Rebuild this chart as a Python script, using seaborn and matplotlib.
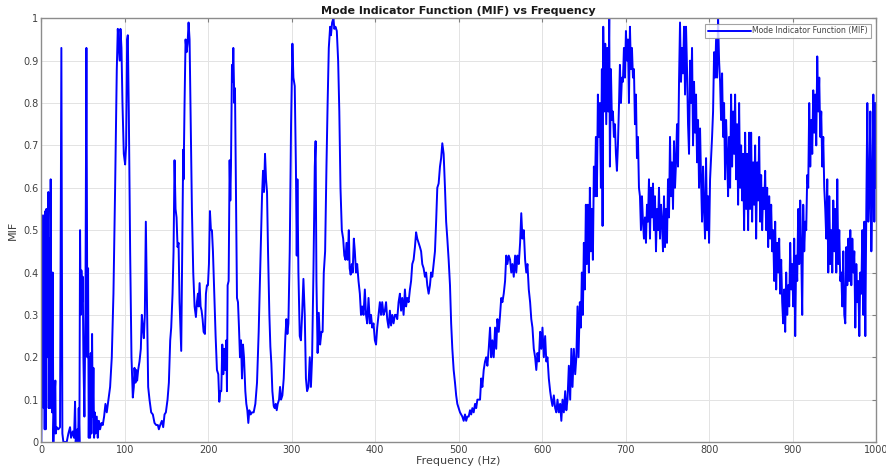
import numpy as np
import pandas as pd
import seaborn as sns
import matplotlib
matplotlib.use("Agg")
import matplotlib.pyplot as plt

# (frequency Hz, MIF), segment by segment
band_0_100 = [
    (0.0, 0.0), (2.0, 0.535), (2.8, 0.08), (3.6, 0.32), (4.0, 0.03), (4.8, 0.545), (5.2, 0.03),
    (6.0, 0.55), (6.8, 0.2), (7.6, 0.45), (8.4, 0.59), (8.8, 0.08), (9.6, 0.48), (10.4, 0.08),
    (11.2, 0.62), (12.0, 0.22), (12.8, 0.07), (13.6, 0.40), (14.4, 0.0), (15.6, 0.1), (16.8, 0.145),
    (17.2, 0.02), (18.4, 0.035), (20.4, 0.03), (22.4, 0.035), (24.0, 0.93), (25.2, 0.02), (26.4, 0.0),
    (28.4, 0.0), (30.4, 0.0), (32.4, 0.02), (34.4, 0.035), (35.6, 0.01), (37.6, 0.025), (39.2, 0.01),
    (40.4, 0.095), (41.2, 0.0), (43.2, 0.03), (44.0, 0.0), (44.8, 0.08), (45.6, 0.0), (46.4, 0.5),
    (47.2, 0.3), (48.0, 0.405), (48.8, 0.33), (49.6, 0.39), (50.4, 0.2), (51.6, 0.06), (52.8, 0.3),
    (54.0, 0.93), (55.2, 0.2), (56.0, 0.41), (56.8, 0.01), (57.6, 0.2), (58.4, 0.01), (59.2, 0.21),
    (60.0, 0.02), (60.8, 0.255), (61.6, 0.06), (62.4, 0.175), (63.2, 0.01), (64.0, 0.07), (64.8, 0.02),
    (66.4, 0.06), (67.6, 0.01), (68.8, 0.05), (70.4, 0.03), (72.0, 0.045), (73.6, 0.04), (75.2, 0.06),
    (76.8, 0.09), (78.4, 0.07), (80.4, 0.1), (82.4, 0.13), (84.4, 0.2), (86.4, 0.35), (88.4, 0.6),
    (90.4, 0.88), (91.6, 0.975), (92.8, 0.93), (94.0, 0.9), (94.8, 0.975), (96.0, 0.93), (97.2, 0.8),
    (98.8, 0.68),
]
band_100_300 = [
    (100.4, 0.655), (101.6, 0.7), (102.8, 0.95), (103.6, 0.96), (104.8, 0.78), (106.4, 0.45),
    (108.0, 0.2), (109.6, 0.105), (110.8, 0.13), (111.6, 0.175), (112.8, 0.14), (113.6, 0.17),
    (114.8, 0.145), (116.0, 0.17), (117.6, 0.19), (119.2, 0.22), (120.4, 0.3), (121.6, 0.27),
    (122.8, 0.245), (124.0, 0.3), (125.2, 0.52), (126.4, 0.35), (128.0, 0.13), (129.6, 0.1),
    (131.6, 0.07), (133.6, 0.065), (135.6, 0.045), (137.6, 0.04), (139.6, 0.04), (140.8, 0.03),
    (142.4, 0.04), (144.4, 0.05), (146.0, 0.035), (147.6, 0.065), (149.2, 0.07), (151.2, 0.1),
    (152.8, 0.14), (154.4, 0.24), (155.6, 0.27), (157.2, 0.35), (158.4, 0.45), (159.6, 0.665),
    (160.8, 0.55), (162.0, 0.53), (163.2, 0.46), (164.4, 0.47), (165.6, 0.33), (166.8, 0.26),
    (167.6, 0.215), (168.8, 0.45), (170.0, 0.69), (170.4, 0.62), (171.6, 0.8), (172.8, 0.95),
    (174.0, 0.92), (175.2, 0.94), (176.4, 0.99), (177.6, 0.95), (178.8, 0.78), (180.4, 0.55),
    (182.0, 0.4), (183.6, 0.32), (185.2, 0.295), (186.4, 0.33), (187.6, 0.35), (188.4, 0.32),
    (189.6, 0.375), (190.8, 0.32), (192.0, 0.31), (193.2, 0.29), (194.4, 0.26), (196.0, 0.255),
    (197.2, 0.35), (198.4, 0.37), (199.6, 0.37), (200.8, 0.42), (202.0, 0.545), (203.2, 0.5),
    (204.4, 0.5), (205.6, 0.45), (207.2, 0.35), (208.8, 0.25), (210.4, 0.17), (212.0, 0.16),
    (213.2, 0.095), (214.4, 0.12), (215.6, 0.12), (216.8, 0.23), (218.0, 0.16), (219.2, 0.22),
    (220.4, 0.17), (221.6, 0.24), (222.4, 0.12), (223.2, 0.37), (224.4, 0.38), (225.6, 0.665),
    (226.4, 0.57), (227.2, 0.65), (228.4, 0.89), (229.2, 0.85), (230.0, 0.93), (231.2, 0.8),
    (232.0, 0.835), (233.2, 0.6), (234.4, 0.34), (235.6, 0.33), (236.8, 0.27), (238.0, 0.2),
    (239.2, 0.24), (240.4, 0.15), (241.6, 0.23), (242.8, 0.2), (244.4, 0.12), (245.6, 0.09),
    (246.8, 0.075), (248.0, 0.045), (249.2, 0.075), (250.8, 0.065), (252.4, 0.07), (254.4, 0.07),
    (256.4, 0.09), (258.4, 0.14), (260.4, 0.26), (262.4, 0.42), (264.4, 0.58), (265.6, 0.64),
    (266.8, 0.59), (268.0, 0.68), (269.2, 0.62), (270.4, 0.59), (271.6, 0.45), (273.2, 0.3),
    (274.4, 0.225), (275.6, 0.185), (276.8, 0.12), (278.4, 0.085), (279.6, 0.08), (280.8, 0.09),
    (282.0, 0.075), (283.2, 0.09), (284.8, 0.1), (286.0, 0.13), (287.2, 0.1), (288.8, 0.11),
    (290.4, 0.15), (292.4, 0.25), (293.6, 0.29), (294.8, 0.255), (296.0, 0.28), (297.6, 0.45),
    (299.2, 0.75),
]
band_300_500 = [
    (300.8, 0.94), (302.0, 0.86), (303.6, 0.84), (305.0, 0.65), (306.0, 0.44), (306.8, 0.62),
    (308.0, 0.4), (309.6, 0.25), (311.0, 0.24), (312.4, 0.3), (314.0, 0.385), (315.6, 0.3),
    (317.0, 0.15), (318.4, 0.12), (320.0, 0.13), (321.6, 0.2), (323.0, 0.13), (324.4, 0.2),
    (326.0, 0.4), (327.6, 0.65), (328.6, 0.71), (329.6, 0.38), (331.0, 0.21), (332.4, 0.305),
    (334.0, 0.23), (335.6, 0.26), (337.0, 0.26), (338.4, 0.4), (340.0, 0.45), (341.6, 0.65),
    (343.0, 0.8), (344.4, 0.93), (346.0, 0.98), (347.0, 0.96), (348.4, 0.99), (350.0, 1.0),
    (351.0, 0.975), (352.4, 0.98), (354.0, 0.97), (355.6, 0.9), (357.0, 0.78), (358.4, 0.6),
    (360.0, 0.5), (361.6, 0.48), (363.0, 0.44), (364.4, 0.43), (365.6, 0.47), (367.0, 0.43),
    (368.4, 0.5), (369.4, 0.41), (370.6, 0.395), (372.0, 0.42), (373.0, 0.4), (374.4, 0.48),
    (375.6, 0.45), (377.0, 0.4), (378.4, 0.42), (380.0, 0.38), (381.6, 0.35), (383.0, 0.3),
    (384.4, 0.32), (386.0, 0.3), (387.6, 0.36), (389.0, 0.3), (390.4, 0.28), (392.0, 0.34),
    (393.6, 0.28), (395.0, 0.3), (396.4, 0.27), (398.0, 0.28), (399.6, 0.24), (401.0, 0.23),
    (402.4, 0.27), (404.0, 0.3), (405.6, 0.33), (407.0, 0.3), (408.4, 0.33), (410.0, 0.3),
    (411.6, 0.31), (413.0, 0.33), (414.4, 0.29), (416.0, 0.27), (417.6, 0.31), (419.0, 0.275),
    (420.4, 0.3), (422.0, 0.28), (423.6, 0.3), (425.0, 0.3), (426.4, 0.29), (428.0, 0.33),
    (429.6, 0.35), (431.0, 0.31), (432.4, 0.34), (434.0, 0.3), (435.6, 0.36), (437.0, 0.32),
    (438.4, 0.34), (440.0, 0.33), (441.6, 0.36), (443.0, 0.38), (444.4, 0.42), (446.0, 0.43),
    (447.6, 0.46), (449.0, 0.495), (450.4, 0.48), (452.0, 0.47), (453.6, 0.46), (455.0, 0.45),
    (456.4, 0.42), (458.0, 0.41), (459.6, 0.39), (461.0, 0.4), (462.4, 0.37), (464.0, 0.35),
    (465.6, 0.37), (467.0, 0.4), (468.4, 0.39), (470.0, 0.42), (471.6, 0.45), (473.0, 0.52),
    (474.4, 0.6), (476.0, 0.61), (477.6, 0.65), (479.0, 0.67), (480.4, 0.705), (482.0, 0.68),
    (483.6, 0.6), (485.0, 0.52), (486.4, 0.48), (488.0, 0.43), (489.6, 0.37), (491.0, 0.28),
    (492.4, 0.22), (494.0, 0.17), (495.6, 0.14), (497.0, 0.11), (498.4, 0.09),
]
band_500_645 = [
    (500.0, 0.08), (501.6, 0.07), (503.0, 0.065), (504.4, 0.06), (506.0, 0.05), (507.6, 0.065),
    (509.0, 0.05), (510.4, 0.06), (512.0, 0.06), (513.6, 0.075), (515.0, 0.065), (516.4, 0.08),
    (518.0, 0.07), (519.6, 0.09), (521.0, 0.08), (522.4, 0.1), (524.0, 0.1), (525.6, 0.1),
    (527.0, 0.15), (528.4, 0.13), (530.0, 0.17), (531.6, 0.19), (533.0, 0.2), (534.4, 0.18),
    (536.0, 0.22), (537.6, 0.27), (539.0, 0.2), (540.4, 0.24), (542.0, 0.2), (543.6, 0.27),
    (545.0, 0.22), (546.4, 0.29), (548.0, 0.26), (549.6, 0.3), (551.0, 0.34), (552.4, 0.33),
    (554.0, 0.35), (555.6, 0.38), (557.0, 0.44), (558.4, 0.42), (560.0, 0.44), (561.6, 0.43),
    (563.0, 0.4), (564.4, 0.42), (566.0, 0.39), (567.6, 0.44), (569.0, 0.4), (570.4, 0.44),
    (572.0, 0.42), (573.6, 0.47), (575.0, 0.54), (576.4, 0.48), (578.0, 0.5), (579.6, 0.43),
    (581.0, 0.4), (582.4, 0.42), (584.0, 0.36), (585.6, 0.33), (587.0, 0.29), (588.4, 0.27),
    (590.0, 0.22), (591.6, 0.2), (593.0, 0.17), (594.4, 0.21), (596.0, 0.19), (597.6, 0.26),
    (599.0, 0.22), (600.4, 0.27), (602.0, 0.2), (603.6, 0.25), (605.0, 0.19), (606.4, 0.2),
    (608.0, 0.15), (609.6, 0.12), (611.0, 0.1), (612.4, 0.085), (614.0, 0.11), (615.6, 0.08),
    (617.0, 0.07), (618.4, 0.1), (620.0, 0.07), (621.6, 0.09), (623.0, 0.05), (624.4, 0.1),
    (626.0, 0.07), (627.6, 0.12), (629.0, 0.075), (630.4, 0.1), (632.0, 0.18), (633.6, 0.1),
    (635.0, 0.22), (636.4, 0.13), (638.0, 0.22), (639.6, 0.16), (641.0, 0.2), (642.4, 0.32),
    (643.6, 0.2), (645.2, 0.33),
]
band_645_800 = [
    (646.4, 0.27), (647.6, 0.4), (648.8, 0.3), (650.0, 0.47), (651.2, 0.36), (652.4, 0.56),
    (653.6, 0.42), (654.8, 0.56), (656.0, 0.4), (657.2, 0.6), (658.4, 0.45), (659.6, 0.55),
    (660.8, 0.43), (662.0, 0.65), (663.2, 0.58), (664.4, 0.72), (665.6, 0.58), (666.8, 0.82),
    (668.0, 0.72), (669.2, 0.8), (670.4, 0.6), (671.6, 0.88), (672.4, 0.51), (673.2, 0.98),
    (674.4, 0.78), (675.6, 0.94), (676.8, 0.75), (678.0, 0.93), (679.2, 0.78), (680.4, 1.0),
    (681.2, 0.65), (682.4, 0.88), (683.6, 0.76), (684.8, 0.78), (686.0, 0.72), (687.2, 0.75),
    (688.4, 0.68), (689.6, 0.64), (690.8, 0.7), (692.0, 0.79), (693.2, 0.89), (694.4, 0.8),
    (695.6, 0.86), (696.8, 0.85), (698.0, 0.93), (699.2, 0.86), (700.4, 0.97), (701.6, 0.9),
    (702.8, 0.95), (704.0, 0.8), (705.2, 0.98), (706.4, 0.88), (707.6, 0.93), (708.8, 0.86),
    (710.0, 0.88), (711.2, 0.75), (712.4, 0.82), (713.6, 0.67), (714.8, 0.72), (716.0, 0.6),
    (717.2, 0.58), (718.4, 0.5), (719.6, 0.58), (720.8, 0.52), (722.0, 0.48), (723.2, 0.53),
    (724.4, 0.47), (725.6, 0.56), (726.8, 0.52), (728.0, 0.62), (729.2, 0.48), (730.4, 0.6),
    (731.6, 0.53), (732.8, 0.61), (734.0, 0.5), (735.2, 0.58), (736.4, 0.45), (737.6, 0.55),
    (738.8, 0.5), (740.0, 0.6), (741.2, 0.48), (742.4, 0.56), (743.6, 0.52), (744.8, 0.45),
    (746.0, 0.58), (747.2, 0.46), (748.4, 0.55), (749.6, 0.47), (750.8, 0.62), (752.0, 0.53),
    (753.2, 0.72), (754.4, 0.58), (755.6, 0.66), (756.8, 0.55), (758.0, 0.71), (759.2, 0.6),
    (760.4, 0.66), (761.6, 0.75), (762.8, 0.65), (764.0, 0.85), (765.2, 0.99), (766.4, 0.85),
    (767.6, 0.93), (768.8, 0.87), (770.0, 0.98), (771.2, 0.82), (772.4, 0.98), (773.6, 0.88),
    (774.8, 0.75), (776.0, 0.68), (777.2, 0.9), (778.4, 0.8), (779.6, 0.93), (780.8, 0.7),
    (782.0, 0.85), (783.2, 0.73), (784.4, 0.82), (785.6, 0.66), (786.8, 0.76), (788.0, 0.6),
    (789.2, 0.74), (790.4, 0.62), (791.6, 0.52), (792.8, 0.65), (794.0, 0.55), (795.2, 0.48),
    (796.4, 0.67), (797.6, 0.5), (798.8, 0.58),
]
band_800_1000 = [
    (800.0, 0.47), (801.2, 0.62), (802.4, 0.67), (803.6, 0.72), (804.8, 0.78), (806.0, 0.92),
    (807.2, 0.86), (808.4, 0.95), (809.6, 0.86), (810.8, 1.0), (812.0, 0.9), (813.2, 0.85),
    (814.4, 0.76), (815.6, 0.87), (816.8, 0.72), (818.0, 0.8), (819.2, 0.62), (820.4, 0.76),
    (821.6, 0.68), (822.8, 0.58), (824.0, 0.72), (825.2, 0.6), (826.4, 0.82), (827.6, 0.65),
    (828.8, 0.78), (830.0, 0.68), (831.2, 0.82), (832.4, 0.62), (833.6, 0.75), (834.8, 0.56),
    (836.0, 0.8), (837.2, 0.6), (838.4, 0.7), (839.6, 0.57), (840.8, 0.68), (842.0, 0.5),
    (843.2, 0.73), (844.4, 0.55), (845.6, 0.68), (846.8, 0.5), (848.0, 0.73), (849.2, 0.55),
    (850.4, 0.73), (851.6, 0.52), (852.8, 0.66), (854.0, 0.56), (855.2, 0.7), (856.4, 0.48),
    (857.6, 0.66), (858.8, 0.57), (860.0, 0.72), (861.2, 0.52), (862.4, 0.63), (863.6, 0.5),
    (864.8, 0.6), (866.0, 0.55), (867.2, 0.64), (868.4, 0.5), (869.6, 0.6), (870.8, 0.46),
    (872.0, 0.58), (873.2, 0.48), (874.4, 0.56), (875.6, 0.45), (876.8, 0.5), (878.0, 0.38),
    (879.2, 0.52), (880.4, 0.36), (881.6, 0.47), (882.8, 0.4), (884.0, 0.48), (885.2, 0.35),
    (886.4, 0.43), (887.6, 0.33), (888.8, 0.28), (890.0, 0.36), (891.2, 0.26), (892.4, 0.4),
    (893.6, 0.3), (894.8, 0.37), (896.0, 0.32), (897.2, 0.47), (898.4, 0.36), (899.6, 0.42),
    (900.8, 0.32), (902.0, 0.48), (903.2, 0.25), (904.4, 0.44), (905.6, 0.38), (906.8, 0.55),
    (908.0, 0.42), (909.2, 0.57), (910.4, 0.45), (911.6, 0.3), (912.8, 0.56), (914.0, 0.45),
    (915.2, 0.52), (916.4, 0.5), (917.6, 0.63), (918.8, 0.6), (920.0, 0.8), (921.2, 0.65),
    (922.4, 0.76), (923.6, 0.68), (924.8, 0.83), (926.0, 0.73), (927.2, 0.82), (928.4, 0.7),
    (929.6, 0.91), (930.8, 0.78), (932.0, 0.86), (933.2, 0.72), (934.4, 0.78), (935.6, 0.65),
    (936.8, 0.72), (938.0, 0.6), (939.2, 0.55), (940.4, 0.48), (941.6, 0.62), (942.8, 0.4),
    (944.0, 0.58), (945.2, 0.42), (946.4, 0.5), (947.6, 0.4), (948.8, 0.57), (950.0, 0.45),
    (951.2, 0.55), (952.4, 0.4), (953.6, 0.62), (954.8, 0.42), (956.0, 0.5), (957.2, 0.38),
    (958.4, 0.4), (959.6, 0.32), (960.8, 0.45), (962.0, 0.3), (963.2, 0.28), (964.4, 0.46),
    (965.6, 0.37), (966.8, 0.48), (968.0, 0.38), (969.2, 0.5), (970.4, 0.37), (971.6, 0.48),
    (972.8, 0.4), (974.0, 0.45), (975.2, 0.27), (976.4, 0.42), (977.6, 0.33), (978.8, 0.38),
    (980.0, 0.25), (981.2, 0.4), (982.4, 0.35), (983.6, 0.5), (984.8, 0.3), (986.0, 0.52),
    (987.2, 0.25), (988.4, 0.55), (989.6, 0.8), (990.8, 0.52), (992.0, 0.58), (993.2, 0.78),
    (994.4, 0.45), (995.6, 0.6), (996.8, 0.82), (998.0, 0.52), (999.2, 0.8), (1000.0, 0.6),
]

bands = band_0_100 + band_100_300 + band_300_500 + band_500_645 + band_645_800 + band_800_1000
df = pd.DataFrame(bands, columns=["freq", "mif"])

sns.set_theme(style="whitegrid")
plt.rcParams['font.family'] = ['DejaVu Sans']

fig, ax = plt.subplots(figsize=(8.87, 4.76), dpi=100)
fig.subplots_adjust(left=0.0466, right=0.9876, top=0.9616, bottom=0.0714)
ax.set_facecolor("white")

sns.lineplot(data=df, x="freq", y="mif", color="#0000ff", linewidth=1.4,
             estimator=None, sort=False, label="Mode Indicator Function (MIF)", ax=ax)

ax.set_xlim(0, 1000)
ax.set_ylim(0, 1)
ax.set_xticks(np.arange(0, 1001, 100))
ax.set_yticks(np.arange(0, 1.01, 0.1))
ax.set_yticklabels(["0", "0.1", "0.2", "0.3", "0.4", "0.5", "0.6", "0.7", "0.8", "0.9", "1"])
ax.grid(True, color="#e3e3e3", linewidth=0.7)
ax.tick_params(direction="in", length=3, width=0.8, color="#808080", labelsize=7,
               labelcolor="#404040", top=True, right=True, pad=2)
for s in ax.spines.values():
    s.set_visible(True)
    s.set_color("#8c8c8c")
    s.set_linewidth(1.0)

ax.set_xlabel("Frequency (Hz)", fontsize=8, color="#404040", labelpad=1)
ax.set_ylabel("MIF", fontsize=8, color="#404040", labelpad=4)
ax.set_title("Mode Indicator Function (MIF) vs Frequency", fontsize=8, fontweight="bold",
             color="#1a1a1a", pad=3)

leg = ax.legend(loc="upper right", fontsize=5.6, frameon=True, fancybox=False,
                handlelength=5.5, borderpad=0.35, borderaxespad=0.7, handletextpad=0.2)
leg.get_frame().set_edgecolor("#8c8c8c")
leg.get_frame().set_linewidth(0.8)
for t in leg.get_texts():
    t.set_color("#404040")

fig.savefig("out.png", dpi=100)
